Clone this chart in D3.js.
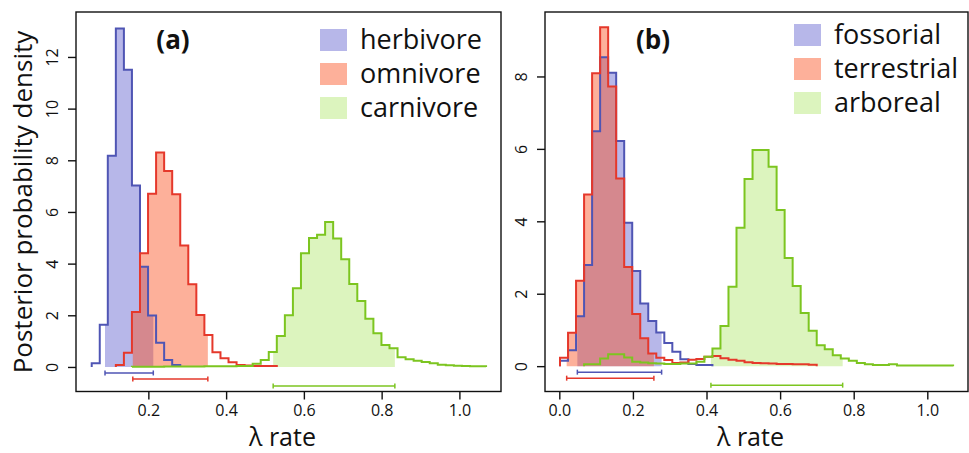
<!DOCTYPE html>
<html>
<head>
<meta charset="utf-8">
<script src="https://cdn.jsdelivr.net/npm/d3@7"></script>
<style>
  body { margin: 0; background: #fff; }
  text { font-family: "Open Sans", "Noto Sans", sans-serif; fill: #111; }
</style>
</head>
<body>
<div id="chart"></div>
<script>
// ---- data: posterior densities per histogram bin ----

// panel (a): diet
const dietNames = ["herbivore", "omnivore", "carnivore"];
const dietBinStart = 0.0543, dietBinWidth = 0.0207;
const dietFirstBin = [0, 3, 5];
const herbivore = [0.14, 1.63, 8.18, 13.1, 11.5, 7.02, 3.88, 1.99, 0.94, 0.27, 0.08];
const omnivore = [0.08, 0.55, 2.13, 4.40, 6.70, 8.30, 7.59, 6.69, 4.70, 3.20, 2.01, 1.24,
  0.57, 0.34, 0.18, 0.08, 0.06, 0.04, 0.04, 0.04];
const carnivore = [0.01, 0.01, 0.01, 0.01, 0.02, 0.02, 0.02, 0.02, 0.02, 0.03, 0.03, 0.03,
  0.03, 0.04, 0.04, 0.12, 0.27, 0.58, 1.2, 2.0, 3.05, 4.4, 4.99, 5.12, 5.61, 4.97, 4.17,
  3.21, 2.55, 1.87, 1.30, 0.85, 0.72, 0.38, 0.30, 0.24, 0.19, 0.14, 0.09, 0.07, 0.05,
  0.04, 0.03, 0.03];
const dietHpd = [[0.0885, 0.2127], [0.160, 0.353], [0.521, 0.834]];

// panel (b): habitat
const habitatNames = ["fossorial", "terrestrial", "arboreal"];
const habitatBinStart = 0.0019, habitatBinWidth = 0.0218;
const habitatFirstBin = [0, 0, 3];
const fossorial = [0.15, 0.44, 1.38, 2.79, 6.49, 8.53, 8.10, 6.22, 3.96, 2.63, 1.73, 1.25,
  0.93, 0.64, 0.40, 0.19, 0.06, 0.03, 0.03];
const terrestrial = [0.23, 0.92, 2.36, 4.74, 8.09, 9.36, 7.72, 5.18, 2.74, 1.44, 0.77, 0.35,
  0.23, 0.17, 0.09, 0.10, 0.18, 0.20, 0.26, 0.28, 0.22, 0.18, 0.15, 0.11, 0.09, 0.08,
  0.07, 0.06, 0.06, 0.05, 0.05, 0.04];
const arboreal = [0.05, 0.05, 0.21, 0.33, 0.33, 0.24, 0.12, 0.10, 0.08, 0.07, 0.06, 0.06,
  0.07, 0.07, 0.12, 0.26, 0.49, 1.11, 2.19, 3.82, 5.17, 5.97, 5.97, 5.51, 4.31, 2.99,
  2.21, 1.47, 0.98, 0.58, 0.47, 0.30, 0.21, 0.15, 0.09, 0.05, 0.03, 0.03, 0.05, 0.02,
  0.02, 0.02, 0.02, 0.02, 0.02, 0.02];
const habitatHpd = [[0.049, 0.278], [0.020, 0.257], [0.412, 0.770]];

// ticks
const xTicksA = [0.2, 0.4, 0.6, 0.8, 1.0];
const yTicksA = [0, 2, 4, 6, 8, 10, 12];
const xTicksB = [0.0, 0.2, 0.4, 0.6, 0.8, 1.0];
const yTicksB = [0, 2, 4, 6, 8];

// ---- styles ----
const strokes = ["#4f55b4", "#e5382b", "#7cc520"];
const fills = ["rgba(75,75,200,0.4)", "rgba(250,80,30,0.45)", "rgba(140,220,40,0.3)"];
const ciOffset = [6, 12, 19];

const svg = d3.select("#chart")
  .append("svg")
  .attr("width", 969)
  .attr("height", 453);

function drawPanel(cfg) {
  const x = d3.scaleLinear().domain(cfg.xDomain).range([cfg.left, cfg.right]);
  const y = d3.scaleLinear().domain(cfg.yDomain).range([cfg.bottom, cfg.top]);
  const g = svg.append("g");

  const series = cfg.names.map(function(name, i) {
    const bins = cfg.values[i].map(function(v, j) {
      const k = cfg.first[i] + j;
      return {x0: cfg.binStart + k * cfg.binWidth, x1: cfg.binStart + (k + 1) * cfg.binWidth, v: v};
    });
    return {name: name, bins: bins, hpd: cfg.hpd[i], stroke: strokes[i], fill: fills[i]};
  });

  // shaded 95% interval under each histogram
  const area = d3.area()
    .x(d => x(d[0]))
    .y0(y(0))
    .y1(d => y(d[1]));
  series.forEach(function(s) {
    const pts = [];
    s.bins.forEach(function(b) {
      const a = Math.max(b.x0, s.hpd[0]), c = Math.min(b.x1, s.hpd[1]);
      if (c > a) pts.push([a, b.v], [c, b.v]);
    });
    g.append("path").attr("d", area(pts)).attr("fill", s.fill);
  });

  // step outlines
  const line = d3.line()
    .x(d => x(d[0]))
    .y(d => y(d[1]));
  series.forEach(function(s) {
    const pts = [[s.bins[0].x0, 0]];
    s.bins.forEach(b => pts.push([b.x0, b.v], [b.x1, b.v]));
    pts.push([s.bins[s.bins.length - 1].x1, 0]);
    g.append("path")
      .attr("d", line(pts))
      .attr("fill", "none")
      .attr("stroke", s.stroke)
      .attr("stroke-width", 2);
  });

  // interval bars below zero
  series.forEach(function(s, i) {
    const yy = y(0) + ciOffset[i];
    const ci = g.append("g").attr("stroke", s.stroke).attr("stroke-width", 1.5);
    ci.append("line").attr("x1", x(s.hpd[0])).attr("x2", x(s.hpd[1])).attr("y1", yy).attr("y2", yy);
    s.hpd.forEach(function(h) {
      ci.append("line").attr("x1", x(h)).attr("x2", x(h)).attr("y1", yy - 2.5).attr("y2", yy + 2.5);
    });
  });

  // box
  g.append("rect")
    .attr("x", cfg.left).attr("y", cfg.top)
    .attr("width", cfg.right - cfg.left).attr("height", cfg.bottom - cfg.top)
    .attr("fill", "none").attr("stroke", "#111").attr("stroke-width", 1.4);

  // axes
  const xAxis = g.append("g")
    .attr("transform", "translate(0," + cfg.bottom + ")")
    .call(d3.axisBottom(x).tickValues(cfg.xTicks).tickSize(8).tickPadding(5).tickFormat(d3.format(".1f")));
  xAxis.select(".domain").remove();
  xAxis.selectAll("line").attr("stroke", "#111").attr("stroke-width", 1.4);
  xAxis.selectAll("text").attr("font-size", 16).attr("font-family", null).attr("fill", "#222");

  const yAxis = g.append("g")
    .attr("transform", "translate(" + cfg.left + ",0)")
    .call(d3.axisLeft(y).tickValues(cfg.yTicks).tickSize(8).tickFormat(d3.format("d")));
  yAxis.select(".domain").remove();
  yAxis.selectAll("line").attr("stroke", "#111").attr("stroke-width", 1.4);
  yAxis.selectAll("text")
    .attr("font-size", 16).attr("font-family", null).attr("fill", "#222")
    .attr("x", null).attr("dy", null)
    .attr("text-anchor", "middle")
    .attr("transform", "translate(-18,0) rotate(-90)");

  // x title
  g.append("text")
    .attr("x", (cfg.left + cfg.right) / 2 - 6)
    .attr("y", 446)
    .attr("text-anchor", "middle")
    .attr("font-size", 25)
    .text("λ rate");

  // panel label
  g.append("text")
    .attr("x", cfg.labelX)
    .attr("y", 49)
    .attr("text-anchor", "middle")
    .attr("font-size", 26)
    .attr("font-weight", "bold")
    .text(cfg.label);

  // legend
  series.forEach(function(s, i) {
    const top = cfg.legTop + i * 34;
    g.append("rect")
      .attr("x", cfg.legX).attr("y", top)
      .attr("width", 27).attr("height", 22)
      .attr("fill", s.fill);
    g.append("text")
      .attr("x", cfg.legX + 40)
      .attr("y", top + 11)
      .attr("dy", "0.35em")
      .attr("font-size", 27)
      .text(s.name);
  });
}

drawPanel({
  names: dietNames,
  values: [herbivore, omnivore, carnivore],
  first: dietFirstBin,
  hpd: dietHpd,
  binStart: dietBinStart, binWidth: dietBinWidth,
  left: 76, right: 501, top: 12, bottom: 391.5,
  xDomain: [0.0139, 1.107], yDomain: [-0.95, 13.74],
  xTicks: xTicksA, yTicks: yTicksA,
  label: "(a)", labelX: 173,
  legX: 320, legTop: 29
});

drawPanel({
  names: habitatNames,
  values: [fossorial, terrestrial, arboreal],
  first: habitatFirstBin,
  hpd: habitatHpd,
  binStart: habitatBinStart, binWidth: habitatBinWidth,
  left: 545, right: 968, top: 12, bottom: 391.5,
  xDomain: [-0.0389, 1.1106], yDomain: [-0.70, 9.78],
  xTicks: xTicksB, yTicks: yTicksB,
  label: "(b)", labelX: 653,
  legX: 794, legTop: 24
});

// shared y title
svg.append("text")
  .attr("transform", "translate(32,202) rotate(-90)")
  .attr("text-anchor", "middle")
  .attr("font-size", 26)
  .text("Posterior probability density");
</script>
</body>
</html>
